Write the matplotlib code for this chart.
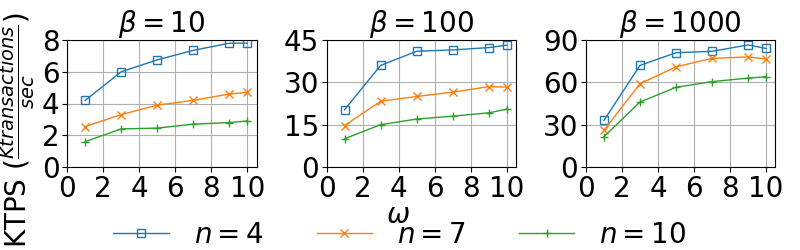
import matplotlib
matplotlib.use('Agg')
import matplotlib.pyplot as plt

omega = [1, 3, 5, 7, 9, 10]
betas = ['10', '100', '1000']
labels = ['$n=4$', '$n=7$', '$n=10$']
markers = ['s', 'x', '+']

# ktps[beta][n]
ktps_b10 = [[4.2, 6.0, 6.75, 7.35, 7.8, 7.8],
            [2.55, 3.3, 3.9, 4.2, 4.6, 4.7],
            [1.6, 2.4, 2.45, 2.7, 2.8, 2.9]]
ktps_b100 = [[20.3, 36.0, 41.0, 41.5, 42.3, 43.2],
             [14.7, 23.3, 25.0, 26.5, 28.5, 28.3],
             [10.0, 15.0, 17.0, 18.0, 19.2, 20.5]]
ktps_b1000 = [[33.0, 72.0, 81.0, 82.0, 86.5, 84.0],
              [26.0, 59.0, 71.0, 77.0, 78.0, 76.5],
              [21.5, 46.0, 56.5, 60.5, 63.0, 64.0]]
ymaxs = [8, 45, 90]
yticks = [[0, 2, 4, 6, 8], [0, 15, 30, 45], [0, 30, 60, 90]]

plt.rcParams['font.size'] = 20

fig, axes = plt.subplots(1, 3, figsize=(8, 2.5), dpi=100)
fig.subplots_adjust(left=0.084, right=0.969, bottom=0.332, top=0.84, wspace=0.37)

for ax, beta, data, ymax, yt in zip(axes, betas, [ktps_b10, ktps_b100, ktps_b1000], ymaxs, yticks):
    for series, lab, m in zip(data, labels, markers):
        ax.plot(omega, series, marker=m, markersize=6, linewidth=1,
                fillstyle='none', label=lab)
    ax.set_title(r'$\beta=%s$' % beta, fontsize=20, pad=3)
    ax.set_xlim(0, 10.5)
    ax.set_ylim(0, ymax)
    ax.set_xticks([0, 2, 4, 6, 8, 10])
    ax.set_yticks(yt)
    ax.grid(True)
    ax.tick_params(pad=2, labelsize=20)

fig.text(0.022, 0.48, r'KTPS ($\frac{Ktransactions}{sec}$)', rotation=90,
         ha='center', va='center', fontsize=20)
fig.text(0.498, 0.14, r'$\omega$', ha='center', va='center', fontsize=20)

handles, labs = axes[0].get_legend_handles_labels()
fig.legend(handles, labs, loc='center', ncol=3, frameon=False,
           bbox_to_anchor=(0.5, 0.06), handlelength=2, columnspacing=1.9,
           handletextpad=0.9, numpoints=1, borderpad=0, fontsize=20)

plt.savefig('out.png', dpi=100)
